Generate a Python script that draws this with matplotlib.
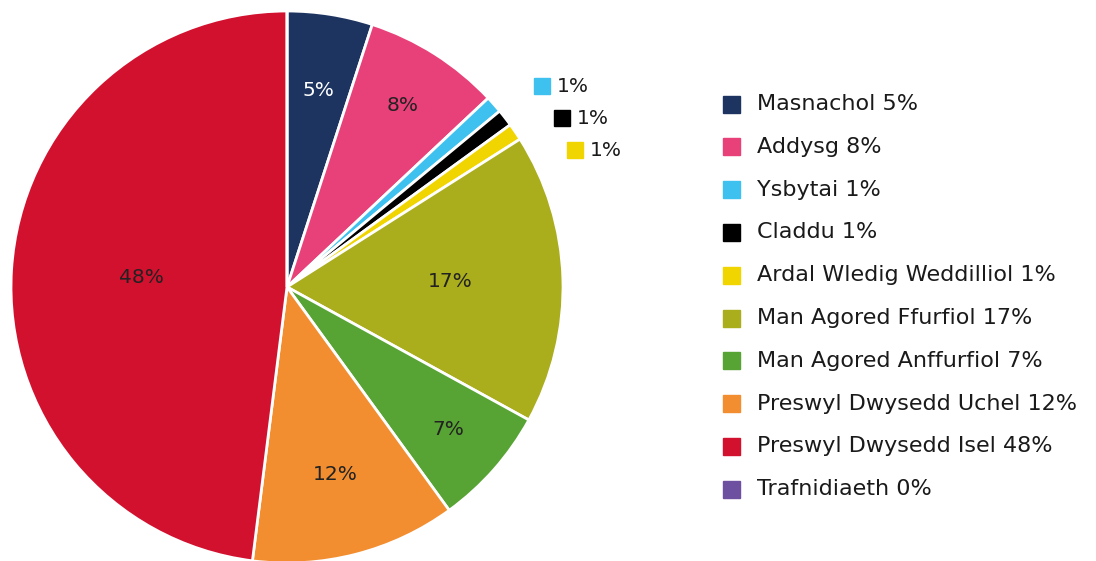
import numpy as np
import matplotlib.pyplot as plt

plt.rcParams["font.family"] = ["DejaVu Sans"]

categories = [
    "Masnachol", "Addysg", "Ysbytai", "Claddu", "Ardal Wledig Weddilliol",
    "Man Agored Ffurfiol", "Man Agored Anffurfiol", "Preswyl Dwysedd Uchel",
    "Preswyl Dwysedd Isel", "Trafnidiaeth",
]
values = [5, 8, 1, 1, 1, 17, 7, 12, 48, 0]
colors = ["#1d3461", "#e8417a", "#3ec1ee", "#000000", "#f0d500",
          "#aaad1c", "#57a333", "#f28e30", "#d2112f", "#6d50a0"]
label_colors = ["white", "#222222", None, None, None,
                "#222222", "#222222", "#222222", "#222222", None]
# radial position of the inside labels, as fraction of the radius
label_r = [0.72, 0.78, 0, 0, 0, 0.59, 0.78, 0.70, 0.53, 0]

W, H = 1096, 561
fig = plt.figure(figsize=(W / 100, H / 100), dpi=100)
ax = fig.add_axes([0, 0, 1, 1])

cx, cy, R = 287, H - 287, 276
wedges, _ = ax.pie(values, colors=colors, startangle=90, counterclock=False,
                   center=(cx, cy), radius=R, frame=True,
                   wedgeprops=dict(edgecolor="white", linewidth=2))
ax.set_xlim(0, W)
ax.set_ylim(0, H)
ax.set_aspect("equal")
ax.axis("off")

fs_pie = 14.5
fs_leg = 16
text_col = "#1a1a1a"

small = []
for w, v, lc, r in zip(wedges, values, label_colors, label_r):
    if v == 0:
        continue
    if lc is None:
        small.append((w, v))
        continue
    mid = np.deg2rad((w.theta1 + w.theta2) / 2)
    ax.text(cx + r * R * np.cos(mid), cy + r * R * np.sin(mid), f"{v}%",
            color=lc, fontsize=fs_pie, ha="center", va="center")

# callouts for the 1% slices
for i, (w, v) in enumerate(small):
    x0, y0 = 542 + [0, 20, 33][i], H - (86 + 32 * i)
    ax.add_patch(plt.Rectangle((x0 - 8, y0 - 8), 16, 16,
                               color=w.get_facecolor(), clip_on=False))
    ax.text(x0 + 15, y0, f"{v}%", fontsize=fs_pie, color=text_col,
            va="center", ha="left")

# legend
for i, (c, v, col) in enumerate(zip(categories, values, colors)):
    y = H - (104 + 42.8 * i)
    ax.add_patch(plt.Rectangle((723, y - 8.5), 17, 17, color=col, clip_on=False))
    ax.text(757, y, f"{c} {v}%", fontsize=fs_leg, color=text_col,
            va="center", ha="left")

fig.savefig("out.png", dpi=100)
